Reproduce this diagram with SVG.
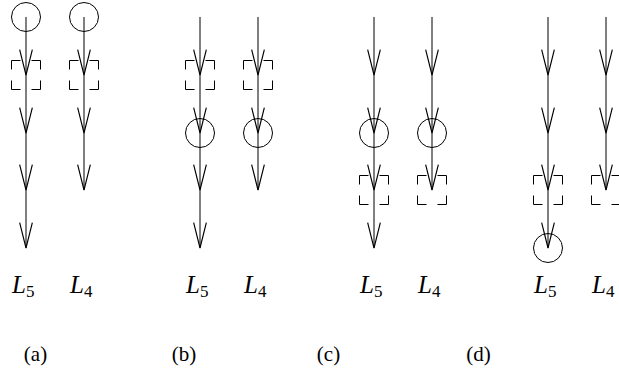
<svg xmlns="http://www.w3.org/2000/svg" width="619" height="378" viewBox="0 0 619 378">
<style>
.ln{stroke:#000;stroke-width:1;fill:none}
.nd{stroke:#000;stroke-width:1;fill:none}
.lab{font-family:"Liberation Serif",serif;font-style:italic;font-size:25px;fill:#000}
.sub{font-style:normal;font-size:17px}
.cap{font-family:"Liberation Serif",serif;font-size:21px;fill:#000;text-anchor:middle}
</style>
<defs>
<marker id="chev" markerUnits="userSpaceOnUse" markerWidth="30" markerHeight="20" viewBox="-24 -8 26 16" refX="0" refY="0" orient="auto" overflow="visible">
<path d="M-22,-5.5 L0,0 L-22,5.5" fill="none" stroke="#000" stroke-width="1"/>
</marker>
<path id="box" d="M-14.5,-5.5 V-14.5 H-5.5 M5.5,-14.5 H14.5 V-5.5 M14.5,5.5 V14.5 H5.5 M-5.5,14.5 H-14.5 V5.5"/>
</defs>
<g id="connectors" class="ln">
<g id="a-conn">
<line x1="26" y1="17" x2="26" y2="75" marker-end="url(#chev)"/>
<line x1="26" y1="75" x2="26" y2="133" marker-end="url(#chev)"/>
<line x1="26" y1="133" x2="26" y2="190" marker-end="url(#chev)"/>
<line x1="26" y1="190" x2="26" y2="248" marker-end="url(#chev)"/>
<line x1="84" y1="17" x2="84" y2="75" marker-end="url(#chev)"/>
<line x1="84" y1="75" x2="84" y2="133" marker-end="url(#chev)"/>
<line x1="84" y1="133" x2="84" y2="190" marker-end="url(#chev)"/>
</g>
<g id="b-conn">
<line x1="200" y1="17" x2="200" y2="75" marker-end="url(#chev)"/>
<line x1="200" y1="75" x2="200" y2="133" marker-end="url(#chev)"/>
<line x1="200" y1="133" x2="200" y2="190" marker-end="url(#chev)"/>
<line x1="200" y1="190" x2="200" y2="248" marker-end="url(#chev)"/>
<line x1="258" y1="17" x2="258" y2="75" marker-end="url(#chev)"/>
<line x1="258" y1="75" x2="258" y2="133" marker-end="url(#chev)"/>
<line x1="258" y1="133" x2="258" y2="190" marker-end="url(#chev)"/>
</g>
<g id="c-conn">
<line x1="374" y1="17" x2="374" y2="75" marker-end="url(#chev)"/>
<line x1="374" y1="75" x2="374" y2="133" marker-end="url(#chev)"/>
<line x1="374" y1="133" x2="374" y2="190" marker-end="url(#chev)"/>
<line x1="374" y1="190" x2="374" y2="248" marker-end="url(#chev)"/>
<line x1="432" y1="17" x2="432" y2="75" marker-end="url(#chev)"/>
<line x1="432" y1="75" x2="432" y2="133" marker-end="url(#chev)"/>
<line x1="432" y1="133" x2="432" y2="190" marker-end="url(#chev)"/>
</g>
<g id="d-conn">
<line x1="548" y1="17" x2="548" y2="75" marker-end="url(#chev)"/>
<line x1="548" y1="75" x2="548" y2="133" marker-end="url(#chev)"/>
<line x1="548" y1="133" x2="548" y2="190" marker-end="url(#chev)"/>
<line x1="548" y1="190" x2="548" y2="248" marker-end="url(#chev)"/>
<line x1="606" y1="17" x2="606" y2="75" marker-end="url(#chev)"/>
<line x1="606" y1="75" x2="606" y2="133" marker-end="url(#chev)"/>
<line x1="606" y1="133" x2="606" y2="190" marker-end="url(#chev)"/>
</g>
</g>
<g id="a-c5" class="nd"><circle cx="26" cy="17" r="14.5"/></g>
<g id="a-c4" class="nd"><circle cx="84" cy="17" r="14.5"/></g>
<g id="a-b5" class="nd"><use href="#box" x="26" y="75"/></g>
<g id="a-b4" class="nd"><use href="#box" x="84" y="75"/></g>
<g id="b-b5" class="nd"><use href="#box" x="200" y="75"/></g>
<g id="b-b4" class="nd"><use href="#box" x="258" y="75"/></g>
<g id="b-c5" class="nd"><circle cx="200" cy="133" r="14.5"/></g>
<g id="b-c4" class="nd"><circle cx="258" cy="133" r="14.5"/></g>
<g id="c-c5" class="nd"><circle cx="374" cy="133" r="14.5"/></g>
<g id="c-c4" class="nd"><circle cx="432" cy="133" r="14.5"/></g>
<g id="c-b5" class="nd"><use href="#box" x="374" y="190"/></g>
<g id="c-b4" class="nd"><use href="#box" x="432" y="190"/></g>
<g id="d-b5" class="nd"><use href="#box" x="548" y="190"/></g>
<g id="d-b4" class="nd"><use href="#box" x="606" y="190"/></g>
<g id="d-c5" class="nd"><circle cx="548" cy="248" r="14.5"/></g>
<g id="labels">
<text class="lab" x="12" y="293">L<tspan class="sub" dy="4">5</tspan></text>
<text class="lab" x="70" y="293">L<tspan class="sub" dy="4">4</tspan></text>
<text class="lab" x="186" y="293">L<tspan class="sub" dy="4">5</tspan></text>
<text class="lab" x="244" y="293">L<tspan class="sub" dy="4">4</tspan></text>
<text class="lab" x="360" y="293">L<tspan class="sub" dy="4">5</tspan></text>
<text class="lab" x="418" y="293">L<tspan class="sub" dy="4">4</tspan></text>
<text class="lab" x="534" y="293">L<tspan class="sub" dy="4">5</tspan></text>
<text class="lab" x="592" y="293">L<tspan class="sub" dy="4">4</tspan></text>
<text class="cap" x="35.5" y="361">(a)</text>
<text class="cap" x="184" y="361">(b)</text>
<text class="cap" x="328.5" y="361">(c)</text>
<text class="cap" x="478.5" y="361">(d)</text>
</g>
</svg>
